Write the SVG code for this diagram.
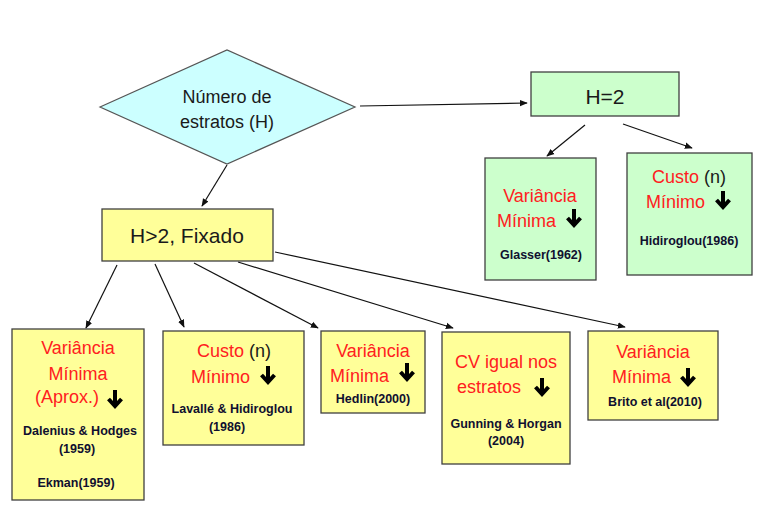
<svg xmlns="http://www.w3.org/2000/svg" width="758" height="513" viewBox="0 0 758 513">
<style>
.box{stroke:#404040;stroke-width:1.3}
.y{fill:#ffff99}.g{fill:#ccffcc}
.t{font-family:"Liberation Sans",Arial,sans-serif;font-size:18px;fill:#1a1a1a}
.big{font-size:21px}
.r{fill:#ff2020}
.c{text-anchor:middle}
.b{font-family:"Liberation Sans",Arial,sans-serif;font-size:12.5px;font-weight:bold;fill:#101030;text-anchor:middle}
.ln{stroke:#111;stroke-width:1.2;fill:none;marker-end:url(#ah)}
</style>
<defs>
<marker id="ah" viewBox="0 0 10 10" refX="9" refY="5" markerWidth="8" markerHeight="8" markerUnits="userSpaceOnUse" orient="auto">
<path d="M0,1 L10,5 L0,9 Z" fill="#111"/>
</marker>
<g id="dn">
<path d="M0,-9 V6" stroke="#000" stroke-width="4" fill="none"/>
<path d="M-6.5,0 L0,7 L6.5,0" stroke="#000" stroke-width="4" fill="none"/>
</g>
</defs>
<rect width="758" height="513" fill="#fff"/>
<g id="connectors">
<path class="ln" d="M360,106 L527,103"/>
<path class="ln" d="M227,165 L202,206"/>
<path class="ln" d="M585,125 L547,156"/>
<path class="ln" d="M623,124 L692,148"/>
<path class="ln" d="M117,265 L86,328"/>
<path class="ln" d="M155,264 L184,327"/>
<path class="ln" d="M194,263 L318,328"/>
<path class="ln" d="M238,262 L453,328"/>
<path class="ln" d="M275,252 L625,327"/>
</g>
<g id="numero">
<polygon points="100,107 227,50 355,107 227,164" fill="#ccffff" stroke="#555" stroke-width="1.2"/>
<text class="t c" x="227" y="103">Número de</text>
<text class="t c" x="227" y="128">estratos (H)</text>
</g>
<g id="h2">
<rect class="box g" x="531" y="72" width="148" height="44"/>
<text class="t big c" x="605" y="104">H=2</text>
</g>
<g id="glasser">
<rect class="box g" x="485" y="158" width="111" height="122"/>
<text class="t r c" x="540" y="202">Variância</text>
<text class="t r" x="497" y="227">Mínima</text>
<use href="#dn" x="574" y="218"/>
<text class="b" x="541" y="259">Glasser(1962)</text>
</g>
<g id="hidiroglou">
<rect class="box g" x="627" y="153" width="125" height="122"/>
<text class="t c" x="689" y="183"><tspan class="r">Custo</tspan> (n)</text>
<text class="t r" x="646" y="208">Mínimo</text>
<use href="#dn" x="723" y="200"/>
<text class="b" x="689" y="245">Hidiroglou(1986)</text>
</g>
<g id="hfix">
<rect class="box y" x="102" y="209" width="171" height="52"/>
<text class="t big c" x="187" y="243">H&gt;2, Fixado</text>
</g>
<g id="dalenius">
<rect class="box y" x="12" y="329" width="132" height="171"/>
<text class="t r c" x="78" y="354">Variância</text>
<text class="t r c" x="78" y="380">Mínima</text>
<text class="t r" x="35" y="403">(Aprox.)</text>
<use href="#dn" x="115" y="399"/>
<text class="b" x="80" y="435">Dalenius &amp; Hodges</text>
<text class="b" x="77" y="453">(1959)</text>
<text class="b" x="76" y="487">Ekman(1959)</text>
</g>
<g id="lavalle">
<rect class="box y" x="163" y="331" width="141" height="114"/>
<text class="t c" x="234" y="357"><tspan class="r">Custo</tspan> (n)</text>
<text class="t r" x="191" y="383">Mínimo</text>
<use href="#dn" x="268" y="375"/>
<text class="b" x="232" y="413">Lavallé &amp; Hidiroglou</text>
<text class="b" x="227" y="431">(1986)</text>
</g>
<g id="hedlin">
<rect class="box y" x="321" y="331" width="104" height="82"/>
<text class="t r c" x="373" y="357">Variância</text>
<text class="t r" x="330" y="382">Mínima</text>
<use href="#dn" x="407" y="372"/>
<text class="b" x="373" y="403">Hedlin(2000)</text>
</g>
<g id="gunning">
<rect class="box y" x="442" y="332" width="128" height="132"/>
<text class="t r c" x="506" y="368">CV igual nos</text>
<text class="t r" x="457" y="393">estratos</text>
<use href="#dn" x="542" y="387"/>
<text class="b" x="506" y="428">Gunning &amp; Horgan</text>
<text class="b" x="506" y="445">(2004)</text>
</g>
<g id="brito">
<rect class="box y" x="588" y="331" width="130" height="89"/>
<text class="t r c" x="653" y="358">Variância</text>
<text class="t r" x="612" y="383">Mínima</text>
<use href="#dn" x="688" y="377"/>
<text class="b" x="655" y="406">Brito et al(2010)</text>
</g>
</svg>
